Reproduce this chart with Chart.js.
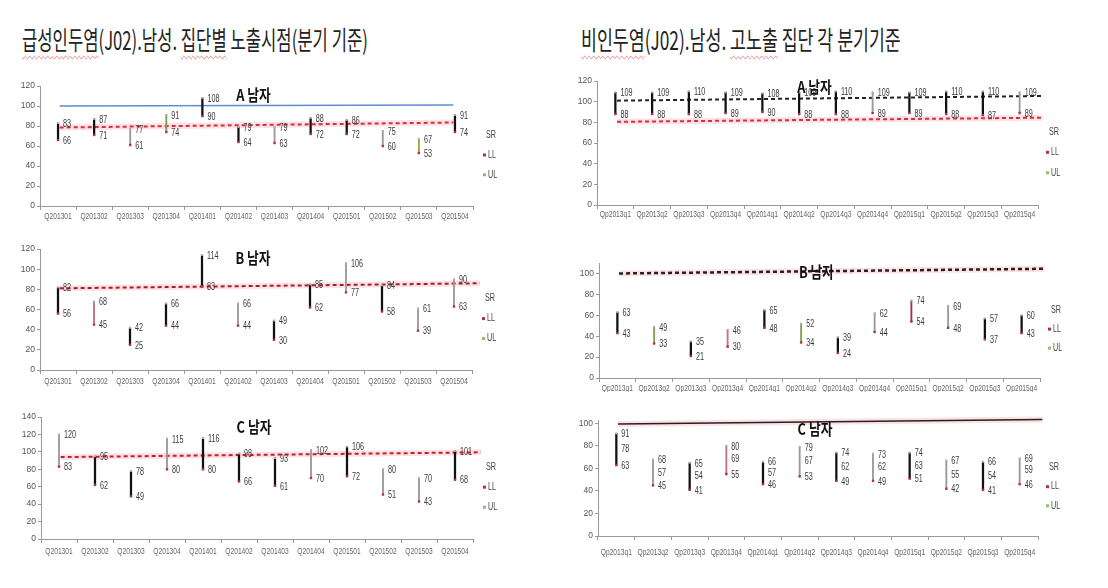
<!DOCTYPE html>
<html><head><meta charset="utf-8">
<script src="https://cdn.jsdelivr.net/npm/chart.js@4/dist/chart.umd.min.js"></script>
<style>
html,body{margin:0;padding:0;background:#fff;width:1108px;height:588px;overflow:hidden;position:relative}
.ttl{position:absolute;font-family:"Noto Sans CJK KR",sans-serif;font-size:26px;line-height:30px;color:#222;white-space:nowrap;transform-origin:0 0}
.sp{text-decoration:underline wavy #e07070;text-decoration-thickness:1px;text-underline-offset:5px}
canvas{position:absolute}
</style></head><body>
<div class="ttl" style="left:22px;top:24px;transform:scaleX(0.64)"><span class="sp">급성인두염</span>(J02).남성. <span class="sp">집단별</span> 노출시점(분기 기준)</div>
<div class="ttl" style="left:581px;top:24px;transform:scaleX(0.665)"><span class="sp">비인두염</span>(J02).남성. <span class="sp">고노출</span> 집단 각 분기기준</div>
<canvas id="lA" width="556" height="158" style="left:0;top:72px"></canvas>
<canvas id="lB" width="556" height="160" style="left:0;top:232px"></canvas>
<canvas id="lC" width="556" height="193" style="left:0;top:395px"></canvas>
<canvas id="rA" width="548" height="158" style="left:560px;top:72px"></canvas>
<canvas id="rB" width="548" height="160" style="left:560px;top:232px"></canvas>
<canvas id="rC" width="548" height="193" style="left:560px;top:395px"></canvas>
<script>
// ---------- data ----------
const quartersL = ['Q201301','Q201302','Q201303','Q201304','Q201401','Q201402','Q201403','Q201404','Q201501','Q201502','Q201503','Q201504'];
const quartersR = ['Qp2013q1','Qp2013q2','Qp2013q3','Qp2013q4','Qp2014q1','Qp2014q2','Qp2014q3','Qp2014q4','Qp2015q1','Qp2015q2','Qp2015q3','Qp2015q4'];
const yTicks120 = [0, 20, 40, 60, 80, 100, 120];
const yTicks140 = [0, 20, 40, 60, 80, 100, 120, 140];
const yTicks100 = [0, 20, 40, 60, 80, 100];

const leftA_UL = [83, 87, 77, 91, 108, 79, 79, 88, 86, 75, 67, 91];
const leftA_LL = [66, 71, 61, 74, 90, 64, 63, 72, 72, 60, 53, 74];
const leftA_ref = [100, 101];
const leftA_trend = [78.5, 83.5];

const leftB_UL = [82, 68, 42, 66, 114, 66, 49, 85, 106, 84, 61, 90];
const leftB_LL = [56, 45, 25, 44, 83, 44, 30, 62, 77, 58, 39, 63];
const leftB_trend = [81, 86];

const leftC_UL = [120, 95, 78, 115, 116, 98, 93, 102, 106, 80, 70, 101];
const leftC_LL = [83, 62, 49, 80, 80, 66, 61, 70, 72, 51, 43, 68];
const leftC_trend = [94, 99.5];

const rightA_UL = [109, 109, 110, 109, 108, 109, 110, 109, 109, 110, 110, 109];
const rightA_LL = [88, 88, 88, 89, 90, 88, 88, 89, 89, 88, 87, 89];
const rightA_upper = [101, 105.5];
const rightA_trend = [80.5, 84.5];

const rightB_UL = [63, 49, 35, 46, 65, 52, 39, 62, 74, 69, 57, 60];
const rightB_LL = [43, 33, 21, 30, 48, 34, 24, 44, 54, 48, 37, 43];
const rightB_upper = [100, 104.5];

const rightC_UL = [91, 68, 65, 80, 66, 79, 74, 73, 74, 67, 66, 69];
const rightC_SR = [78, 57, 54, 69, 57, 67, 62, 62, 63, 55, 54, 59];
const rightC_LL = [63, 45, 41, 55, 46, 53, 49, 49, 51, 42, 41, 46];
const rightC_upper = [99.5, 103.5];

// ---------- drawing ----------
const SANS = '"Liberation Sans",Arial,sans-serif';
const K = '#111', G = '#9a9a9a', GR = '#7fa050', PK = '#c07080';

function ctext(ctx, s, x, y, sx, align) {
  ctx.save(); ctx.translate(x, y); ctx.scale(sx, 1); ctx.textAlign = align; ctx.fillText(s, 0, 0); ctx.restore();
}

function panel(id, cv, area, o) {
  const canvas = document.getElementById(id);
  const padTop = area.t - cv.top, yW = area.l - cv.left;
  const xH = cv.top + cv.height - area.b, padR = cv.left + cv.width - area.r;
  const n = o.labels.length;
  const datasets = [];
  (o.lines || []).forEach(L => {
    if (L.glow) datasets.push({type:'line', xAxisID:'xt', data:[{x:0,y:L.data[0]},{x:L.xEnd,y:L.data[1]}],
      borderColor:'rgba(255,120,130,0.22)', borderWidth:6, pointRadius:0, clip:false, order:20});
    datasets.push({type:'line', xAxisID:'xt', data:[{x:0,y:L.data[0]},{x:L.xEnd,y:L.data[1]}],
      borderColor:L.color, borderWidth:L.width, borderDash:L.dash || [], pointRadius:0, clip:false, order:19});
  });
  datasets.push({type:'bar', xAxisID:'x', grouped:false,
    data:o.UL.map((u,i)=> o.colors[i] === K ? [o.LL[i],u] : null),
    backgroundColor:o.colors, barThickness:1.6, order:5});
  datasets.push({type:'bar', xAxisID:'x', grouped:false,
    data:o.UL.map((u,i)=> o.colors[i] !== K ? [o.LL[i],u] : null),
    backgroundColor:o.colors, barThickness:1.2, order:6});
  datasets.push({type:'line', xAxisID:'x', data:o.LL, showLine:false, pointStyle:'rect', pointRadius:1.7,
    pointBackgroundColor:'#b03050', pointBorderWidth:0, order:1});
  datasets.push({type:'line', xAxisID:'x', data:o.UL, showLine:false, pointStyle:'rect', pointRadius:1.4,
    pointBackgroundColor:'#a8b0a0', pointBorderWidth:0, order:1});

  const labelPlugin = {
    id:'lbl'+id,
    afterDatasetsDraw(chart) {
      const ctx = chart.ctx, xs = chart.scales.x, ys = chart.scales.y, ca = chart.chartArea;
      ctx.save();
      ctx.font = '10px ' + SANS; ctx.fillStyle = '#3a3a3a'; ctx.textBaseline = 'middle';
      for (let i = 0; i < n; i++) {
        const x = xs.getPixelForValue(i);
        ctext(ctx, String(o.UL[i]), x + 5, ys.getPixelForValue(o.UL[i]) + 1, 0.72, 'left');
        ctext(ctx, String(o.LL[i]), x + 5, ys.getPixelForValue(o.LL[i]) + 1, 0.72, 'left');
        if (o.SR) ctext(ctx, String(o.SR[i]), x + 5, ys.getPixelForValue(o.SR[i]) + 1, 0.72, 'left');
      }
      // category labels
      ctx.font = '9.5px ' + SANS; ctx.fillStyle = '#666';
      for (let i = 0; i < n; i++) {
        ctext(ctx, o.labels[i], xs.getPixelForValue(i), ca.bottom + o.labelDy, 0.7, 'center');
      }
      // legend
      const lx = ca.right + o.legDx, h = ca.bottom - ca.top;
      ctx.font = '10px ' + SANS; ctx.fillStyle = '#444';
      ctext(ctx, 'SR', lx + 2, ca.top + 0.41 * h, 0.72, 'left');
      ctx.fillStyle = '#b03050'; ctx.fillRect(lx - 1, ca.top + 0.575 * h - 1.5, 3, 3);
      ctx.fillStyle = '#444'; ctext(ctx, 'LL', lx + 4, ca.top + 0.575 * h, 0.72, 'left');
      ctx.fillStyle = '#8cc070'; ctx.fillRect(lx - 1, ca.top + 0.74 * h - 1.5, 3, 3);
      ctx.fillStyle = '#444'; ctext(ctx, 'UL', lx + 4, ca.top + 0.74 * h, 0.72, 'left');
      // panel title
      ctx.translate((ca.left + ca.right) / 2 - 3, ca.top + o.titleDy);
      ctx.scale(0.8, 1);
      ctx.font = 'bold 16px "Noto Sans CJK KR",sans-serif'; ctx.fillStyle = '#111'; ctx.textAlign = 'center';
      ctx.fillText(o.title, 0, 0);
      ctx.restore();
    }
  };

  new Chart(canvas, {
    type:'bar',
    data:{labels:o.labels, datasets},
    options:{
      responsive:false, animation:false, devicePixelRatio:1,
      layout:{padding:{top:padTop, right:padR, left:0, bottom:0}},
      plugins:{legend:{display:false}, tooltip:{enabled:false}},
      scales:{
        x:{type:'category', offset:true, grid:{offset:true, drawOnChartArea:false, drawTicks:true, tickLength:4, color:'#999'},
           border:{color:'#999'},
           ticks:{display:false},
           afterFit(s){ s.height = xH; }},
        xt:{type:'linear', min:0, max:1, display:false},
        y:{type:'linear', min:0, max:o.max, grid:{drawOnChartArea:false, drawTicks:true, tickLength:3, color:'#999'},
           border:{color:'#999'},
           ticks:{padding:2, color:'#555', font:{family:'"Liberation Sans",sans-serif', size:8.5}},
           afterBuildTicks(s){ s.ticks = o.yTicks.map(v => ({value:v})); },
           afterFit(s){ s.width = yW; }}
      }
    },
    plugins:[labelPlugin]
  });
}

panel('lA', {left:0, top:72, width:556, height:158}, {l:40, t:86, r:473, b:206}, {
  labels:quartersL, UL:leftA_UL, LL:leftA_LL, max:120, yTicks:yTicks120, labelDy:10, title:'A 남자', titleDy:9, legDx:11,
  colors:[K,K,G,GR,K,K,G,K,K,G,'#a0a040',K],
  lines:[{data:leftA_ref, xEnd:1, color:'#5b8fd0', width:1.6},
         {data:leftA_trend, xEnd:1, color:'#d03040', width:2, dash:[4,3], glow:true}]
});
panel('lB', {left:0, top:232, width:556, height:160}, {l:40, t:249, r:472, b:370}, {
  labels:quartersL, UL:leftB_UL, LL:leftB_LL, max:120, yTicks:yTicks120, labelDy:11, title:'B 남자', titleDy:9, legDx:11,
  colors:[K,PK,K,K,K,G,K,K,G,K,G,G],
  lines:[{data:leftB_trend, xEnd:1.07, color:'#a02030', width:2, dash:[4,3], glow:true}]
});
panel('lC', {left:0, top:395, width:556, height:193}, {l:41, t:417, r:473, b:539}, {
  labels:quartersL, UL:leftC_UL, LL:leftC_LL, max:140, yTicks:yTicks140, labelDy:12, title:'C 남자', titleDy:10, legDx:11,
  colors:[G,K,K,G,K,K,K,G,K,G,G,K],
  lines:[{data:leftC_trend, xEnd:1.07, color:'#c02030', width:2, dash:[4,3], glow:true}]
});
panel('rA', {left:560, top:72, width:548, height:158}, {l:597, t:81, r:1038, b:205}, {
  labels:quartersR, UL:rightA_UL, LL:rightA_LL, max:120, yTicks:yTicks120, labelDy:9, title:'A 남자', titleDy:6, legDx:9,
  colors:[K,K,K,K,K,K,K,G,K,K,K,G],
  lines:[{data:rightA_upper, xEnd:1.061, color:'#222', width:2, dash:[4,3]},
         {data:rightA_trend, xEnd:1.061, color:'#d03040', width:2, dash:[4,3], glow:true}]
});
panel('rB', {left:560, top:232, width:548, height:160}, {l:599, t:263, r:1040, b:378}, {
  labels:quartersR, UL:rightB_UL, LL:rightB_LL, max:110, yTicks:yTicks100, labelDy:10, title:'B 남자', titleDy:9, legDx:9,
  colors:[K,GR,K,PK,K,GR,K,G,'#a03050',G,K,K],
  lines:[{data:rightB_upper, xEnd:1.061, color:'#222', width:2.5, dash:[4,3], glow:true}]
});
panel('rC', {left:560, top:395, width:548, height:193}, {l:598, t:420, r:1038, b:536}, {
  labels:quartersR, UL:rightC_UL, LL:rightC_LL, SR:rightC_SR, max:103, yTicks:yTicks100, labelDy:16, title:'C 남자', titleDy:9, legDx:9,
  colors:[K,G,K,PK,K,G,K,G,K,G,K,G],
  lines:[{data:rightC_upper, xEnd:1.061, color:'#222', width:1.5, glow:true}]
});
</script>
</body></html>
